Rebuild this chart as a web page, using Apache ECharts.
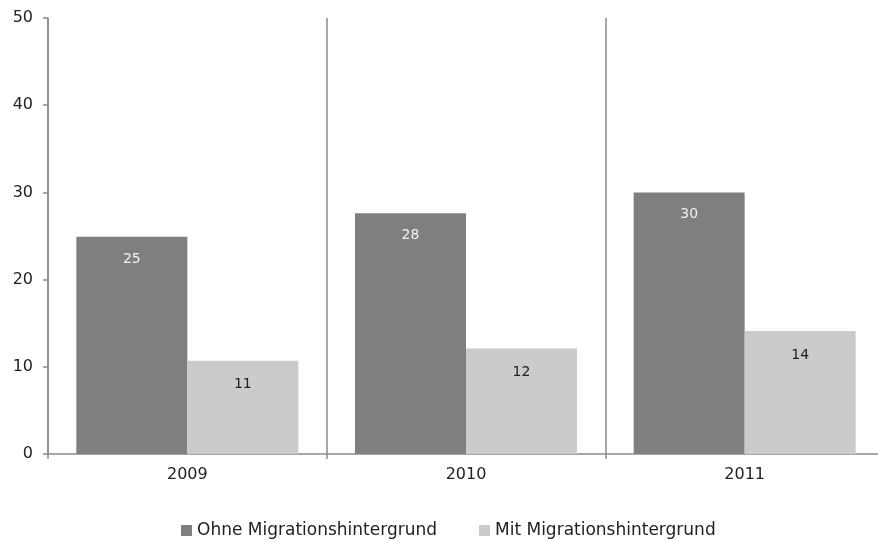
<!DOCTYPE html>
<html>
<head>
<meta charset="utf-8">
<script src="https://cdn.jsdelivr.net/npm/echarts@6/dist/echarts.min.js"></script>
<style>
  html, body { margin: 0; padding: 0; background: #fff; }
  #chart { width: 878px; height: 542px; }
</style>
</head>
<body>
<div id="chart"></div>
<script>
// Daten
const years = ['2009', '2010', '2011'];
const ohneMigration = [24.9, 27.6, 30.0];
const mitMigration = [10.7, 12.1, 14.1];
const seriesNames = ['Ohne Migrationshintergrund', 'Mit Migrationshintergrund'];

const chart = echarts.init(document.getElementById('chart'));

const axisGrey = '#8a8a8a';
const textFont = '"DejaVu Sans", Verdana, sans-serif';

const option = {
  animation: false,
  backgroundColor: '#fff',
  // Plotfläche läuft rechts über den Bildrand hinaus
  grid: { left: 48, width: 836, top: 18, bottom: 88, outerBoundsMode: 'none' },
  legend: {
    data: seriesNames,
    top: 522,
    left: 181,
    padding: 0,
    icon: 'rect',
    itemWidth: 11,
    itemHeight: 11,
    itemGap: 42,
    textStyle: { fontFamily: textFont, fontSize: 17, color: '#222' }
  },
  xAxis: {
    type: 'category',
    data: years,
    axisLine: { lineStyle: { color: axisGrey, width: 1.5 } },
    axisTick: { show: true, length: 5, lineStyle: { color: axisGrey, width: 1.5 } },
    splitLine: { show: true, lineStyle: { color: axisGrey, width: 1.5 } },
    axisLabel: { margin: 13, fontFamily: textFont, fontSize: 16, color: '#222' }
  },
  yAxis: {
    type: 'value',
    min: 0,
    max: 50,
    interval: 10,
    axisLine: { show: true, lineStyle: { color: axisGrey, width: 1.5 } },
    axisTick: { show: true, length: 5, lineStyle: { color: axisGrey, width: 1.5 } },
    splitLine: { show: false },
    axisLabel: { margin: 15, fontFamily: textFont, fontSize: 16, color: '#222' }
  },
  series: [
    {
      name: seriesNames[0],
      type: 'bar',
      data: ohneMigration,
      barWidth: 111,
      barGap: '0%',
      itemStyle: { color: '#7f7f7f' },
      label: {
        show: true,
        position: 'insideTop',
        distance: 15,
        color: '#f2f2f2',
        fontFamily: textFont,
        fontSize: 14,
        formatter: p => Math.round(p.value)
      }
    },
    {
      name: seriesNames[1],
      type: 'bar',
      data: mitMigration,
      barWidth: 111,
      barGap: '0%',
      itemStyle: { color: '#cbcbcb' },
      label: {
        show: true,
        position: 'insideTop',
        distance: 17,
        color: '#222',
        fontFamily: textFont,
        fontSize: 14,
        formatter: p => Math.round(p.value)
      }
    }
  ]
};

chart.setOption(option);
</script>
</body>
</html>
